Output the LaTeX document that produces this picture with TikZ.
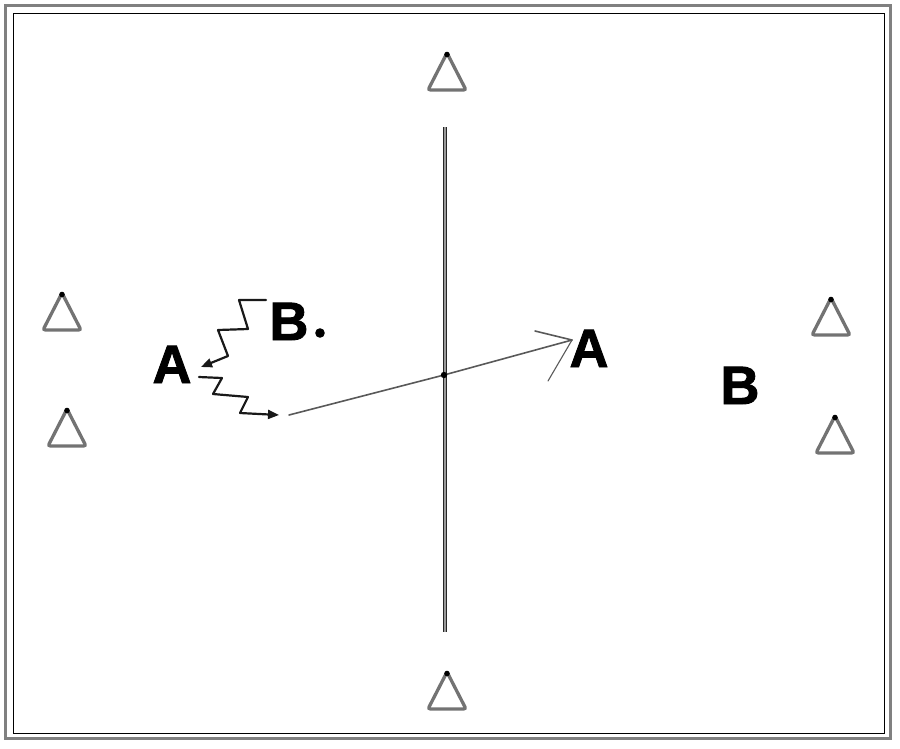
\documentclass[tikz,border=0pt]{standalone}
\usepackage{fontspec}
\newfontfamily\letterfont[FakeBold=1.6]{Liberation Sans}
\usetikzlibrary{arrows.meta}
\tikzset{
  letter/.style={inner sep=0pt, anchor=base, font=\letterfont\bfseries\fontsize{54}{54}\selectfont},
  dribble/.style={line width=2.2pt, black!90, line join=round, line cap=round, -{Triangle[length=11pt,width=9pt]}},
  pass/.style={line width=1.6pt, black!65, line cap=round},
  cone/.pic={
    \draw[black!55, line width=3.3pt, rounded corners=2.5pt] (0,-19) -- (19,18) -- (-19,18) -- cycle;
    \fill[black] (0,-17.5) circle (2.8);
  }
}
\begin{document}
\begin{tikzpicture}[x=1pt,y=-1pt]
\useasboundingbox (0,0) rectangle (900,748);
% borders
\draw[black!50, line width=3pt] (5.5,5.5) rectangle (890,738.5);
\draw[black, line width=1pt] (13,13) rectangle (884,733);
% centre line
\coordinate (ctop) at (445,127);
\coordinate (cbot) at (445,632);
\draw[black!85, line width=0.9pt, double=black!40, double distance=2pt] (ctop) -- (cbot);
% cones
\pic at (447,72) {cone};
\pic at (447,691) {cone};
\pic at (62,312) {cone};
\pic at (67,428) {cone};
\pic at (831,317) {cone};
\pic at (835,435) {cone};
% letters
\node[letter] (A1) at (172,383) {A};
\node[letter] (B1) at (289,340) {B};
\node[letter] (A2) at (589,367) {A};
\node[letter] (B2) at (740,404) {B};
\fill[black] (320,333) circle (4.8);
% dribble from B to A
\coordinate (z1) at (266,300);
\draw[dribble] (z1) -- (239,300) -- (248,329) -- (218,330) -- (228,356) -- (201,367);
% dribble after A
\coordinate (z2) at (199,377);
\coordinate (z3) at (279,415);
\draw[dribble] (z2) -- (222,378) -- (213,394) -- (248,397) -- (240,413) -- (z3);
% pass
\coordinate (p0) at (289,415);
\coordinate (pc) at (444,375);
\coordinate (tip) at (572,340);
\draw[pass] (p0) -- (pc) -- (tip);
\draw[pass] (tip) -- (535,331);
\draw[pass, line width=1.1pt] (tip) -- (548,381);
\fill[black] (pc) circle (3.2);
\end{tikzpicture}
\end{document}
